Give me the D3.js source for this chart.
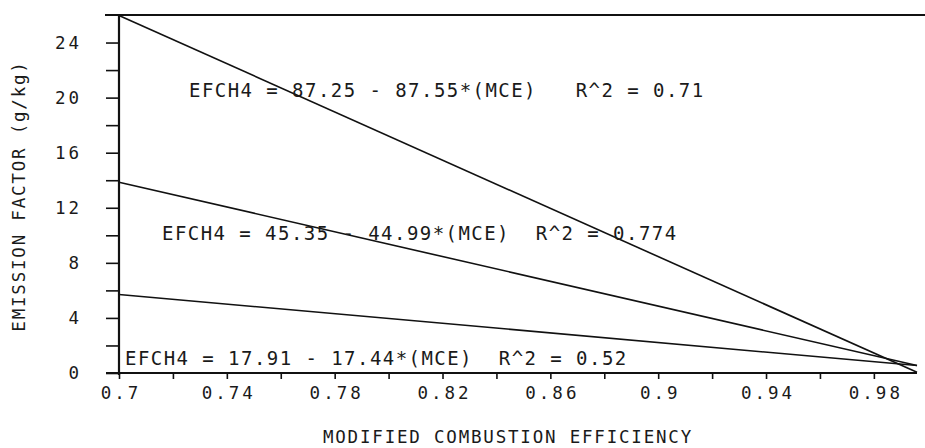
<!DOCTYPE html>
<html>
<head>
<meta charset="utf-8">
<script src="https://cdn.jsdelivr.net/npm/d3@7"></script>
<style>
  html, body { margin: 0; padding: 0; background: #fff; }
  svg { display: block; }
  text { font-family: "DejaVu Sans Mono", monospace; fill: #1a1a1a; }
</style>
</head>
<body>
<svg id="chart" width="925" height="448"></svg>
<script>
// Regression fits of CH4 emission factor against modified combustion efficiency
const intercepts = [87.25, 45.35, 17.91];
const slopes = [87.55, 44.99, 17.44];
const rSquared = ["0.71", "0.774", "0.52"];
const gaps = ["   ", "  ", "  "];
const mceRange = [0.7, 0.996];

// Axis ticks
const xTicks = [0.70, 0.72, 0.74, 0.76, 0.78, 0.80, 0.82, 0.84, 0.86, 0.88, 0.90, 0.92, 0.94, 0.96, 0.98];
const xTickLabels = ["0.7", "", "0.74", "", "0.78", "", "0.82", "", "0.86", "", "0.9", "", "0.94", "", "0.98"];
const yTicks = [0, 2, 4, 6, 8, 10, 12, 14, 16, 18, 20, 22, 24];
const yTickLabels = ["0", "", "4", "", "8", "", "12", "", "16", "", "20", "", "24"];

const svg = d3.select("#chart");
const plotLeft = 119, plotRight = 917, plotTop = 15, plotBottom = 373;

const x = d3.scaleLinear().domain([0.7, 0.996]).range([plotLeft, plotRight]);
const y = d3.scaleLinear().domain([0, 26]).range([plotBottom, plotTop]);

// Top frame line
svg.append("line")
  .attr("x1", 105).attr("x2", 925).attr("y1", plotTop).attr("y2", plotTop)
  .attr("stroke", "#111").attr("stroke-width", 2);

// Y axis
const yAxis = svg.append("g")
  .attr("transform", `translate(${plotLeft},0)`)
  .call(d3.axisLeft(y).tickValues(yTicks).tickSize(13).tickPadding(24)
    .tickFormat((d, i) => yTickLabels[i]));
yAxis.select(".domain").remove();
yAxis.selectAll(".tick line").attr("stroke", "#111").attr("stroke-width", 1.6);
yAxis.selectAll(".tick text")
  .attr("font-size", 17.5).style("letter-spacing", "3px")
  .attr("fill", "#1a1a1a").attr("font-family", "DejaVu Sans Mono");
svg.append("line")
  .attr("x1", plotLeft).attr("x2", plotLeft).attr("y1", plotTop).attr("y2", plotBottom + 2)
  .attr("stroke", "#111").attr("stroke-width", 2.2);

// X axis
const xAxis = svg.append("g")
  .attr("transform", `translate(0,${plotBottom})`)
  .call(d3.axisBottom(x).tickValues(xTicks).tickSize(6).tickPadding(8)
    .tickFormat((d, i) => xTickLabels[i]));
xAxis.select(".domain").remove();
xAxis.selectAll(".tick line").attr("stroke", "#111").attr("stroke-width", 1.6);
xAxis.selectAll(".tick text")
  .attr("font-size", 17.5).style("letter-spacing", "3px").attr("dx", 1.5)
  .attr("fill", "#1a1a1a").attr("font-family", "DejaVu Sans Mono");
svg.append("line")
  .attr("x1", 106).attr("x2", plotRight).attr("y1", plotBottom).attr("y2", plotBottom)
  .attr("stroke", "#111").attr("stroke-width", 2);

// Regression lines, evaluated from the fitted coefficients
const line = d3.line().x(d => x(d[0])).y(d => y(d[1]));
intercepts.forEach((a, i) => {
  const pts = mceRange.map(m => [m, a - slopes[i] * m]);
  svg.append("path")
    .attr("d", line(pts))
    .attr("fill", "none").attr("stroke", "#111").attr("stroke-width", 1.6);
});

// Equation labels
const labelPos = [[189, 97], [162, 240], [125, 365]];
intercepts.forEach((a, i) => {
  svg.append("text")
    .attr("x", labelPos[i][0]).attr("y", labelPos[i][1])
    .attr("font-size", 19).style("letter-spacing", "1.45px")
    .attr("xml:space", "preserve").style("white-space", "pre")
    .text(`EFCH4 = ${a.toFixed(2)} - ${slopes[i].toFixed(2)}*(MCE)${gaps[i]}R^2 = ${rSquared[i]}`);
});

// Axis titles
svg.append("text")
  .attr("x", 508).attr("y", 443)
  .attr("text-anchor", "middle")
  .attr("font-size", 17.5).style("letter-spacing", "1.8px")
  .text("MODIFIED COMBUSTION EFFICIENCY");

svg.append("text")
  .attr("transform", "translate(25,196) rotate(-90)")
  .attr("text-anchor", "middle")
  .attr("font-size", 17.5).style("letter-spacing", "1.8px")
  .text("EMISSION FACTOR (g/kg)");
</script>
</body>
</html>
